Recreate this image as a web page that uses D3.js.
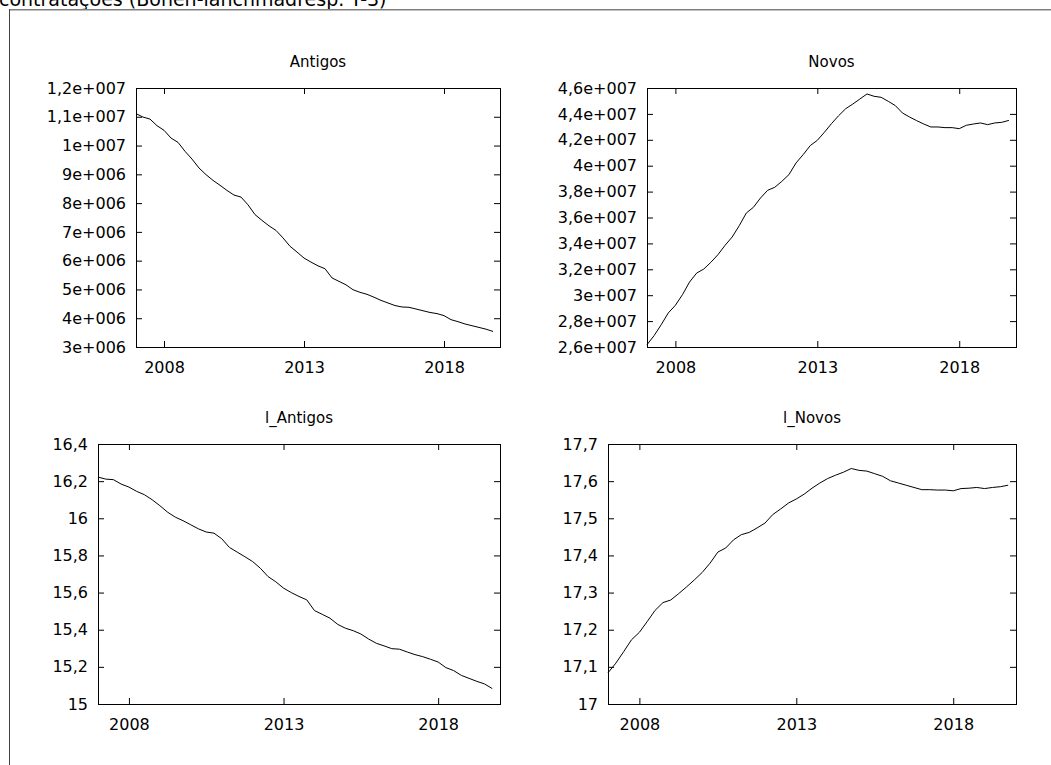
<!DOCTYPE html>
<html>
<head>
<meta charset="utf-8">
<script src="https://cdn.jsdelivr.net/npm/d3@7"></script>
<style>
  body { margin: 0; background: #fff; }
  svg { display: block; font-family: "DejaVu Sans", Verdana, sans-serif; }
  svg text { font-family: "DejaVu Sans", Verdana, sans-serif; }
</style>
</head>
<body>
<div id="chart"></div>
<script>
// quarterly series, 2007:1 - 2019:4
const startYear = 2007;
const xTickYears = [2008, 2013, 2018];

const antigos = [11.11e6, 10.99e6, 10.92e6, 10.69e6, 10.53e6, 10.26e6, 10.11e6, 9.80e6, 9.53e6, 9.22e6,
  8.99e6, 8.79e6, 8.62e6, 8.44e6, 8.28e6, 8.21e6, 7.94e6, 7.60e6, 7.40e6, 7.21e6,
  7.05e6, 6.79e6, 6.50e6, 6.30e6, 6.09e6, 5.95e6, 5.82e6, 5.72e6, 5.40e6, 5.28e6,
  5.16e6, 4.99e6, 4.90e6, 4.83e6, 4.73e6, 4.62e6, 4.53e6, 4.44e6, 4.39e6, 4.38e6,
  4.32e6, 4.26e6, 4.20e6, 4.16e6, 4.09e6, 3.95e6, 3.88e6, 3.80e6, 3.74e6, 3.68e6,
  3.62e6, 3.54e6];

const novos = [2.618e7, 2.688e7, 2.772e7, 2.863e7, 2.922e7, 3.004e7, 3.102e7, 3.171e7, 3.202e7, 3.254e7,
  3.313e7, 3.385e7, 3.449e7, 3.537e7, 3.635e7, 3.679e7, 3.751e7, 3.810e7, 3.833e7, 3.879e7,
  3.931e7, 4.021e7, 4.085e7, 4.155e7, 4.196e7, 4.258e7, 4.325e7, 4.386e7, 4.440e7, 4.476e7,
  4.515e7, 4.554e7, 4.536e7, 4.528e7, 4.497e7, 4.464e7, 4.407e7, 4.376e7, 4.348e7, 4.322e7,
  4.299e7, 4.299e7, 4.294e7, 4.294e7, 4.286e7, 4.312e7, 4.322e7, 4.330e7, 4.317e7, 4.330e7,
  4.335e7, 4.350e7];

const lAntigos = [16.222, 16.211, 16.208, 16.184, 16.168, 16.145, 16.127, 16.100, 16.068, 16.033,
  16.006, 15.987, 15.965, 15.943, 15.926, 15.920, 15.890, 15.843, 15.818, 15.793,
  15.767, 15.731, 15.686, 15.658, 15.624, 15.600, 15.579, 15.561, 15.503, 15.483,
  15.462, 15.429, 15.408, 15.395, 15.377, 15.350, 15.327, 15.313, 15.298, 15.295,
  15.280, 15.266, 15.255, 15.241, 15.226, 15.196, 15.180, 15.154, 15.138, 15.122,
  15.108, 15.083];

const lNovos = [17.084, 17.110, 17.141, 17.173, 17.193, 17.222, 17.252, 17.273, 17.280, 17.297,
  17.315, 17.334, 17.354, 17.379, 17.409, 17.420, 17.442, 17.456, 17.462, 17.474,
  17.487, 17.510, 17.525, 17.541, 17.552, 17.565, 17.581, 17.595, 17.607, 17.616,
  17.624, 17.634, 17.629, 17.627, 17.620, 17.613, 17.601, 17.595, 17.589, 17.583,
  17.577, 17.577, 17.576, 17.576, 17.574, 17.580, 17.581, 17.583, 17.580, 17.583,
  17.585, 17.589];

const titles = ['Antigos', 'Novos', 'l_Antigos', 'l_Novos'];
const yDomains = [[3e6, 1.2e7], [2.6e7, 4.6e7], [15, 16.4], [17, 17.7]];
const yTickSteps = [1e6, 2e6, 0.2, 0.1];

(($d3) => {
  const CHART = {
    selector: '#chart',
    options: {
      width: 1051,
      height: 765,
      tickSize: 6,
      titleSize: 15,
      labelSize: 16,
      // plot boxes [left, right, top, bottom]
      boxes: [
        [136, 500, 88, 347],
        [647, 1016, 88, 347],
        [98, 500, 444, 704],
        [608, 1016, 444, 704],
      ],
    },

    init: function () {
      const svg = $d3.select(this.selector)
        .append('svg')
        .attr('width', this.options.width)
        .attr('height', this.options.height);

      this.drawFrame(svg);

      const series = [antigos, novos, lAntigos, lNovos];
      series.forEach((values, i) => this.drawPanel(svg, i, values));
    },

    drawFrame: function (svg) {
      // window title (cut off by the top edge) and frame
      svg.append('text')
        .attr('x', -1)
        .attr('y', 6)
        .attr('font-size', 19)
        .attr('fill', '#000')
        .text('contratações (Bohen-lanchmadresp. T-3)');
      svg.append('rect')
        .attr('x', 9).attr('y', 9)
        .attr('width', this.options.width - 9).attr('height', 1.5)
        .attr('fill', '#808080');
      svg.append('line')
        .attr('x1', 9.5).attr('x2', 9.5)
        .attr('y1', 9).attr('y2', this.options.height)
        .attr('stroke', '#444');
    },

    fmt: function (v) {
      if (Math.abs(v) >= 1e5) {
        const e = Math.floor(Math.log10(v) + 1e-9);
        const m = +(v / Math.pow(10, e)).toFixed(1);
        return String(m).replace('.', ',') + 'e+' + String(e).padStart(3, '0');
      }
      return String(+v.toFixed(2)).replace('.', ',');
    },

    drawPanel: function (svg, i, values) {
      const [l, r, t, b] = this.options.boxes[i];
      const ts = this.options.tickSize;
      const fs = this.options.labelSize;
      const dom = yDomains[i];

      const x = $d3.scaleLinear().domain([startYear, 2020]).range([l, r]);
      const y = $d3.scaleLinear().domain(dom).range([b, t]);

      const step = yTickSteps[i];
      const n = Math.round((dom[1] - dom[0]) / step);
      const yTicks = $d3.range(n + 1).map((k) => +(dom[0] + k * step).toFixed(4));

      const g = svg.append('g');

      g.append('text')
        .attr('x', (l + r) / 2)
        .attr('y', t - 21)
        .attr('text-anchor', 'middle')
        .attr('font-size', this.options.titleSize)
        .text(titles[i]);

      const clean = (a) => {
        a.attr('font-family', null).attr('font-size', fs);
        a.select('.domain').remove();
      };

      // left / right axes with inward ticks
      g.append('g')
        .attr('transform', 'translate(' + l + ',0)')
        .call($d3.axisLeft(y).tickValues(yTicks).tickSizeInner(-ts).tickSizeOuter(0)
          .tickPadding(10).tickFormat((d) => this.fmt(d)))
        .call(clean);
      g.append('g')
        .attr('transform', 'translate(' + r + ',0)')
        .call($d3.axisRight(y).tickValues(yTicks).tickSizeInner(-ts).tickSizeOuter(0).tickFormat(''))
        .call(clean);

      g.append('g')
        .attr('transform', 'translate(0,' + b + ')')
        .call($d3.axisBottom(x).tickValues(xTickYears).tickSizeInner(-ts).tickSizeOuter(0)
          .tickPadding(15).tickFormat($d3.format('d')))
        .call(clean);
      g.append('g')
        .attr('transform', 'translate(0,' + t + ')')
        .call($d3.axisTop(x).tickValues(xTickYears).tickSizeInner(-ts).tickSizeOuter(0).tickFormat(''))
        .call(clean);

      g.selectAll('.tick text').attr('fill', '#000');
      g.selectAll('.tick line').attr('stroke', '#000');

      g.append('rect')
        .attr('x', l + 0.5).attr('y', t + 0.5)
        .attr('width', r - l).attr('height', b - t)
        .attr('fill', 'none')
        .attr('stroke', '#000');

      const line = $d3.line()
        .x((d, k) => x(startYear + k / 4))
        .y((d) => y(d));

      g.append('path')
        .datum(values)
        .attr('d', line)
        .attr('fill', 'none')
        .attr('stroke', '#000')
        .attr('stroke-width', 1);
    },
  };

  CHART.init();
})(d3);
</script>
</body>
</html>
